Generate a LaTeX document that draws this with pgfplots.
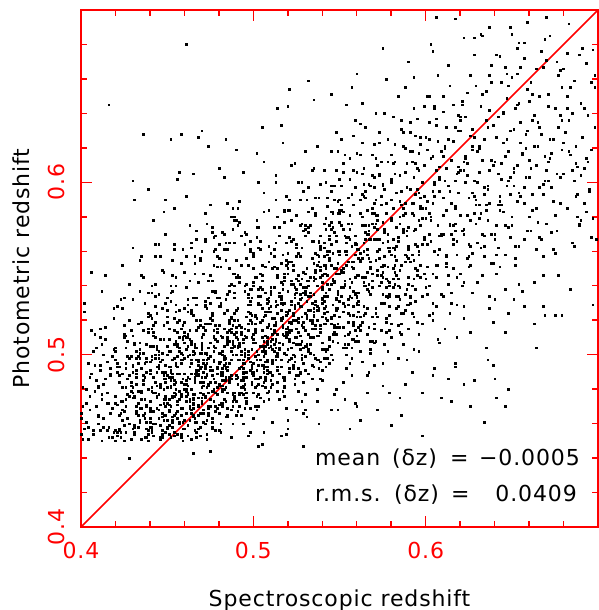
\documentclass[border=0pt]{standalone}
\usepackage{pgfplots}
\pgfplotsset{compat=1.18}
\usepackage{pgfplotstable}
\usepackage{fontspec}
\setmainfont{DejaVu Sans}[LetterSpace=4]

% Galaxy redshifts, stored in units of 0.001
\pgfplotstableread[row sep=\\]{
zspec zphot\\
400 463\\ 401 481\\ 402 457\\ 403 472\\ 404 495\\ 405 468\\ 406 489\\ 407 454\\ 408 479\\ 409 470\\
407 502\\ 403 461\\ 409 485\\ 401 451\\ 405 476\\ 400 466\\ 408 512\\ 402 530\\ 406 548\\ 404 458\\
417 466\\ 413 483\\ 419 455\\ 411 491\\ 415 472\\ 410 460\\ 418 499\\ 412 477\\ 416 452\\ 414 486\\
414 509\\ 418 469\\ 411 494\\ 416 458\\ 410 481\\ 419 521\\ 413 463\\ 417 488\\ 412 474\\ 415 456\\
412 537\\ 419 503\\ 415 478\\ 410 465\\ 417 492\\ 414 546\\ 411 515\\ 416 645\\
424 462\\ 428 488\\ 421 471\\ 426 455\\ 420 497\\ 429 479\\ 423 466\\ 427 508\\ 422 484\\ 425 459\\
422 493\\ 429 451\\ 425 517\\ 420 476\\ 427 463\\ 424 489\\ 421 528\\ 426 470\\ 423 455\\ 428 498\\
426 481\\ 420 502\\ 422 457\\ 427 486\\ 423 473\\ 428 541\\ 424 468\\ 429 482\\ 421 495\\ 425 512\\
428 460\\ 425 533\\ 426 474\\ 424 552\\ 421 490\\ 428 440\\
432 470\\ 439 456\\ 435 492\\ 430 481\\ 437 463\\ 434 503\\ 431 475\\ 436 488\\ 433 458\\ 438 496\\
436 485\\ 430 511\\ 432 467\\ 437 452\\ 433 479\\ 438 490\\ 434 461\\ 439 522\\ 431 476\\ 435 469\\
438 498\\ 435 474\\ 436 483\\ 434 507\\ 431 455\\ 432 466\\ 430 494\\ 433 472\\ 439 536\\ 437 487\\
431 459\\ 437 530\\ 434 501\\ 438 470\\ 432 489\\ 435 478\\ 439 515\\ 430 457\\ 433 499\\ 436 465\\
435 546\\ 432 491\\ 430 562\\ 439 480\\ 438 506\\ 436 628\\ 434 555\\ 439 596\\ 430 601\\ 431 590\\ 435 557\\
446 471\\ 440 489\\ 442 460\\ 447 497\\ 443 478\\ 448 465\\ 444 503\\ 449 484\\ 441 455\\ 445 492\\
448 480\\ 445 468\\ 446 509\\ 444 475\\ 441 458\\ 442 487\\ 440 473\\ 443 519\\ 449 494\\ 447 466\\
441 499\\ 447 454\\ 444 482\\ 448 462\\ 442 505\\ 445 477\\ 449 490\\ 440 461\\ 443 528\\ 446 483\\
445 463\\ 442 513\\ 440 491\\ 449 470\\ 448 486\\ 446 452\\ 447 464\\ 441 497\\ 444 476\\ 443 541\\
440 523\\ 441 479\\ 442 467\\ 443 534\\ 444 469\\ 445 500\\ 446 481\\ 447 456\\ 448 488\\ 449 474\\
447 549\\ 443 557\\ 449 570\\ 441 536\\ 445 564\\ 440 496\\ 448 583\\ 442 578\\ 443 564\\
458 476\\ 455 494\\ 456 463\\ 454 485\\ 451 502\\ 452 470\\ 450 481\\ 453 458\\ 459 497\\ 457 489\\
451 467\\ 457 510\\ 454 478\\ 458 454\\ 452 491\\ 455 484\\ 459 517\\ 450 472\\ 453 464\\ 456 506\\
455 495\\ 452 482\\ 450 526\\ 459 469\\ 458 477\\ 456 499\\ 457 460\\ 451 487\\ 454 514\\ 453 475\\
450 458\\ 451 471\\ 452 490\\ 453 537\\ 454 465\\ 455 508\\ 456 493\\ 457 479\\ 458 452\\ 459 486\\
457 520\\ 453 461\\ 459 500\\ 451 474\\ 455 545\\ 450 462\\ 458 484\\ 452 531\\ 456 473\\ 454 498\\
454 483\\ 458 553\\ 451 468\\ 456 505\\ 450 488\\ 459 561\\ 453 476\\ 457 502\\ 452 540\\ 455 466\\
457 606\\ 452 625\\ 458 628\\ 454 561\\ 456 602\\ 449 590\\ 454 585\\
461 480\\ 467 497\\ 464 468\\ 468 488\\ 462 505\\ 465 475\\ 469 492\\ 460 462\\ 463 500\\ 466 484\\
465 471\\ 462 512\\ 460 483\\ 469 458\\ 468 494\\ 466 487\\ 467 520\\ 461 476\\ 464 466\\ 463 509\\
460 498\\ 461 485\\ 462 529\\ 463 473\\ 464 480\\ 465 502\\ 466 463\\ 467 490\\ 468 516\\ 469 478\\
467 461\\ 463 474\\ 469 493\\ 461 539\\ 465 469\\ 460 511\\ 468 496\\ 462 482\\ 466 456\\ 464 489\\
464 524\\ 468 465\\ 461 503\\ 466 477\\ 460 548\\ 469 466\\ 463 486\\ 467 533\\ 462 477\\ 465 500\\
462 487\\ 469 556\\ 465 472\\ 460 507\\ 467 491\\ 464 565\\ 461 479\\ 466 504\\ 463 543\\ 468 470\\
466 505\\ 460 489\\ 462 459\\ 467 514\\ 463 493\\ 465 443\\
461 680\\ 465 605\\ 466 557\\ 467 567\\ 468 626\\ 469 555\\ 470 630\\ 463 575\\ 461 592\\
475 484\\ 472 501\\ 470 472\\ 479 492\\ 478 509\\ 476 479\\ 477 496\\ 471 466\\ 474 504\\ 473 488\\
470 475\\ 471 516\\ 472 487\\ 473 462\\ 474 498\\ 475 491\\ 476 524\\ 477 480\\ 478 470\\ 479 513\\
477 502\\ 473 489\\ 479 533\\ 471 477\\ 475 484\\ 470 506\\ 478 467\\ 472 494\\ 476 520\\ 474 482\\
474 465\\ 478 478\\ 471 497\\ 476 543\\ 470 473\\ 479 515\\ 473 500\\ 477 486\\ 472 460\\ 475 493\\
472 528\\ 479 469\\ 475 507\\ 470 481\\ 477 552\\ 474 470\\ 471 490\\ 476 537\\ 473 481\\ 478 504\\
476 491\\ 470 560\\ 472 476\\ 477 511\\ 473 495\\ 478 569\\ 474 483\\ 479 508\\ 471 547\\ 475 474\\
478 509\\ 475 493\\ 476 463\\ 474 518\\ 471 497\\ 475 444\\
474 621\\ 476 574\\ 476 571\\ 477 568\\ 472 582\\ 480 608\\ 472 567\\ 477 560\\ 475 587\\
487 488\\ 483 505\\ 489 476\\ 481 496\\ 485 513\\ 480 483\\ 488 500\\ 482 470\\ 486 508\\ 484 492\\
482 479\\ 489 520\\ 485 491\\ 480 466\\ 487 502\\ 484 495\\ 481 528\\ 486 484\\ 483 474\\ 488 517\\
488 506\\ 485 493\\ 486 537\\ 484 481\\ 481 488\\ 482 510\\ 480 471\\ 483 498\\ 489 524\\ 487 486\\
485 469\\ 482 482\\ 480 501\\ 489 547\\ 488 477\\ 486 519\\ 487 504\\ 481 490\\ 484 464\\ 483 497\\
484 532\\ 488 473\\ 481 511\\ 486 485\\ 480 556\\ 489 474\\ 483 494\\ 487 541\\ 482 485\\ 485 508\\
486 495\\ 480 564\\ 482 480\\ 487 515\\ 483 499\\ 488 573\\ 484 487\\ 489 512\\ 481 551\\ 485 478\\
484 625\\ 483 603\\ 485 588\\ 488 585\\ 489 578\\ 482 571\\ 486 565\\ 489 565\\ 485 561\\ 487 580\\
492 492\\ 499 510\\ 495 480\\ 490 500\\ 497 518\\ 494 487\\ 491 504\\ 496 473\\ 493 512\\ 498 496\\
491 483\\ 497 525\\ 494 495\\ 498 469\\ 492 507\\ 495 499\\ 499 533\\ 490 488\\ 493 478\\ 496 522\\
490 510\\ 491 497\\ 492 542\\ 493 485\\ 494 492\\ 495 515\\ 496 475\\ 497 502\\ 498 529\\ 499 490\\
496 472\\ 490 486\\ 492 505\\ 497 552\\ 493 481\\ 498 524\\ 494 509\\ 499 494\\ 491 467\\ 495 501\\
495 537\\ 492 477\\ 490 516\\ 499 489\\ 498 561\\ 496 478\\ 497 498\\ 491 546\\ 494 489\\ 493 513\\
497 500\\ 493 569\\ 499 484\\ 491 520\\ 495 503\\ 490 578\\ 498 491\\ 492 517\\ 496 556\\ 494 482\\
490 619\\ 494 606\\ 492 589\\ 492 577\\ 495 571\\ 495 564\\
508 496\\ 505 514\\ 506 484\\ 504 505\\ 501 523\\ 502 491\\ 500 509\\ 503 477\\ 509 517\\ 507 501\\
504 487\\ 508 530\\ 501 499\\ 506 473\\ 500 512\\ 509 504\\ 503 538\\ 507 493\\ 502 482\\ 505 527\\
501 515\\ 507 502\\ 504 547\\ 508 489\\ 502 497\\ 505 520\\ 509 479\\ 500 507\\ 503 534\\ 506 494\\
502 476\\ 509 490\\ 505 510\\ 500 557\\ 507 485\\ 504 529\\ 501 514\\ 506 499\\ 503 470\\ 508 506\\
500 542\\ 501 481\\ 502 521\\ 503 494\\ 504 566\\ 505 482\\ 506 503\\ 507 551\\ 508 493\\ 509 518\\
505 505\\ 502 574\\ 500 488\\ 509 525\\ 508 508\\ 506 583\\ 507 496\\ 501 522\\ 504 561\\ 503 486\\
503 600\\ 506 612\\ 505 632\\ 502 617\\ 505 448\\
515 503\\ 512 521\\ 510 490\\ 519 512\\ 518 530\\ 516 497\\ 517 516\\ 511 483\\ 514 524\\ 513 508\\
516 493\\ 510 537\\ 512 506\\ 517 479\\ 513 519\\ 518 511\\ 514 546\\ 519 500\\ 511 488\\ 515 534\\
517 522\\ 513 509\\ 519 555\\ 511 496\\ 515 504\\ 510 528\\ 518 485\\ 512 514\\ 516 542\\ 514 501\\
510 481\\ 511 497\\ 512 517\\ 513 565\\ 514 491\\ 515 536\\ 516 521\\ 517 506\\ 518 476\\ 519 513\\
511 550\\ 517 487\\ 514 529\\ 518 501\\ 512 574\\ 515 489\\ 519 510\\ 510 559\\ 513 499\\ 516 526\\
514 512\\ 518 583\\ 511 495\\ 516 532\\ 510 515\\ 519 592\\ 513 604\\ 517 623\\ 514 643\\ 516 633\\ 519 454\\
524 510\\ 528 528\\ 521 497\\ 526 519\\ 520 537\\ 529 504\\ 523 523\\ 527 490\\ 522 531\\ 525 515\\
528 500\\ 525 544\\ 526 513\\ 524 486\\ 521 526\\ 522 518\\ 520 553\\ 523 507\\ 529 495\\ 527 541\\
522 529\\ 529 516\\ 525 562\\ 520 503\\ 527 511\\ 524 535\\ 521 492\\ 526 521\\ 523 549\\ 528 508\\
525 488\\ 522 504\\ 520 524\\ 529 572\\ 528 498\\ 526 543\\ 527 528\\ 521 513\\ 524 483\\ 523 520\\
527 557\\ 523 494\\ 529 536\\ 521 508\\ 525 581\\ 520 496\\ 528 517\\ 522 566\\ 526 506\\ 524 533\\
521 519\\ 527 590\\ 524 539\\ 528 600\\ 522 610\\ 525 468\\ 520 644\\ 521 654\\ 520 462\\ 529 447\\
536 517\\ 530 535\\ 532 503\\ 537 526\\ 533 545\\ 538 511\\ 534 530\\ 539 496\\ 531 539\\ 535 522\\
531 506\\ 537 552\\ 534 520\\ 538 492\\ 532 534\\ 535 525\\ 539 561\\ 530 514\\ 533 501\\ 536 549\\
530 537\\ 531 523\\ 532 571\\ 533 510\\ 534 518\\ 535 543\\ 536 498\\ 537 528\\ 538 557\\ 539 515\\
534 494\\ 538 511\\ 531 531\\ 536 581\\ 530 505\\ 539 551\\ 533 536\\ 537 520\\ 532 489\\ 535 527\\
538 565\\ 535 500\\ 536 544\\ 534 515\\ 531 590\\ 532 502\\ 530 524\\ 533 575\\ 539 513\\ 537 540\\
532 526\\ 539 599\\ 535 608\\ 530 477\\ 537 621\\ 532 659\\ 535 648\\ 530 468\\ 538 460\\
541 524\\ 547 542\\ 544 510\\ 548 533\\ 542 552\\ 545 518\\ 549 537\\ 540 503\\ 543 546\\ 546 529\\
547 513\\ 543 560\\ 549 527\\ 541 498\\ 545 541\\ 540 532\\ 548 569\\ 542 521\\ 546 508\\ 544 556\\
546 544\\ 540 530\\ 542 579\\ 547 517\\ 543 525\\ 548 550\\ 544 505\\ 549 535\\ 541 565\\ 545 522\\
545 500\\ 542 518\\ 540 539\\ 549 589\\ 548 512\\ 546 559\\ 547 543\\ 541 527\\ 544 495\\ 543 534\\
542 573\\ 549 507\\ 545 552\\ 540 522\\ 547 598\\ 544 509\\ 541 531\\ 546 583\\ 543 520\\ 548 547\\
541 607\\ 545 618\\ 548 480\\ 545 651\\ 545 468\\
550 531\\ 551 549\\ 552 516\\ 553 540\\ 554 560\\ 555 524\\ 556 544\\ 557 509\\ 558 554\\ 559 536\\
558 519\\ 555 568\\ 556 534\\ 554 504\\ 551 548\\ 552 539\\ 550 577\\ 553 528\\ 559 514\\ 557 563\\
554 552\\ 558 537\\ 551 587\\ 556 523\\ 550 531\\ 559 558\\ 553 511\\ 557 542\\ 552 573\\ 555 529\\
555 506\\ 552 525\\ 550 547\\ 559 597\\ 558 518\\ 556 567\\ 557 551\\ 551 534\\ 554 500\\ 553 541\\
556 581\\ 550 560\\ 552 606\\ 557 488\\ 553 616\\ 558 627\\ 554 645\\ 559 472\\ 557 655\\ 553 474\\ 556 457\\
567 537\\ 563 556\\ 569 522\\ 561 546\\ 565 567\\ 560 530\\ 568 550\\ 562 514\\ 566 561\\ 564 542\\
561 525\\ 567 575\\ 564 540\\ 568 508\\ 562 555\\ 565 545\\ 569 585\\ 560 534\\ 563 519\\ 566 570\\
562 559\\ 569 543\\ 565 595\\ 560 529\\ 567 537\\ 564 565\\ 561 516\\ 566 548\\ 563 580\\ 568 535\\
560 511\\ 561 531\\ 562 554\\ 563 605\\ 564 523\\ 565 575\\ 566 558\\ 567 541\\ 568 503\\ 569 547\\
562 616\\ 565 632\\ 567 490\\ 560 663\\ 560 470\\ 566 478\\ 562 462\\
574 542\\ 578 562\\ 571 527\\ 576 552\\ 570 574\\ 579 535\\ 573 556\\ 577 519\\ 572 567\\ 575 548\\
576 530\\ 570 582\\ 572 546\\ 577 513\\ 573 561\\ 578 551\\ 574 592\\ 579 540\\ 571 524\\ 575 577\\
575 565\\ 572 549\\ 570 603\\ 579 534\\ 578 543\\ 576 571\\ 577 521\\ 571 555\\ 574 587\\ 573 540\\
570 515\\ 572 560\\ 574 612\\ 576 506\\ 578 625\\ 571 640\\ 575 495\\ 577 660\\ 579 478\\
575 678\\ 572 468\\ 575 482\\
582 548\\ 589 569\\ 585 532\\ 580 558\\ 587 581\\ 584 540\\ 581 562\\ 586 524\\ 583 574\\ 588 554\\
588 535\\ 585 589\\ 586 552\\ 584 517\\ 581 567\\ 582 557\\ 580 600\\ 583 546\\ 589 529\\ 587 585\\
587 571\\ 583 555\\ 589 611\\ 581 539\\ 585 549\\ 580 578\\ 588 526\\ 582 561\\ 586 595\\ 584 544\\
580 510\\ 582 622\\ 584 498\\ 586 636\\ 588 483\\ 580 459\\ 588 655\\ 585 475\\ 586 465\\
591 554\\ 597 575\\ 594 538\\ 598 564\\ 592 588\\ 595 546\\ 599 568\\ 590 529\\ 593 581\\ 596 560\\
590 541\\ 591 596\\ 592 558\\ 593 522\\ 594 573\\ 595 563\\ 596 607\\ 597 552\\ 598 534\\ 599 592\\
596 578\\ 590 561\\ 592 618\\ 597 545\\ 593 555\\ 598 585\\ 594 531\\ 599 567\\ 591 629\\ 595 549\\
590 515\\ 593 643\\ 596 502\\ 590 670\\ 593 661\\ 592 490\\ 598 478\\ 598 453\\
605 560\\ 602 582\\ 600 544\\ 609 570\\ 608 595\\ 606 552\\ 607 575\\ 601 535\\ 604 588\\ 603 566\\
604 547\\ 608 603\\ 601 564\\ 606 528\\ 600 579\\ 609 569\\ 603 614\\ 607 558\\ 602 540\\ 605 599\\
600 585\\ 602 625\\ 604 520\\ 606 637\\ 608 507\\ 601 650\\ 605 492\\ 607 662\\ 609 475\\ 603 680\\
606 696\\ 604 676\\ 604 488\\
618 566\\ 615 588\\ 616 550\\ 614 576\\ 611 601\\ 612 558\\ 610 581\\ 613 541\\ 619 594\\ 617 572\\
612 553\\ 619 609\\ 615 570\\ 610 534\\ 617 585\\ 614 575\\ 611 620\\ 616 564\\ 613 546\\ 618 605\\
610 591\\ 612 632\\ 614 524\\ 616 645\\ 618 510\\ 613 668\\ 617 495\\ 617 695\\
615 473\\ 613 486\\ 617 493\\
621 572\\ 627 594\\ 624 556\\ 628 582\\ 622 607\\ 625 564\\ 629 587\\ 620 547\\ 623 600\\ 626 578\\
627 559\\ 623 615\\ 629 576\\ 621 540\\ 625 591\\ 620 581\\ 628 626\\ 622 570\\ 626 552\\ 624 611\\
620 638\\ 622 528\\ 624 652\\ 626 513\\ 628 674\\ 628 684\\ 622 684\\ 626 470\\ 628 485\\ 622 483\\
636 578\\ 630 600\\ 632 562\\ 637 588\\ 633 613\\ 638 570\\ 634 593\\ 639 553\\ 631 606\\ 635 584\\
630 565\\ 631 621\\ 632 582\\ 633 546\\ 634 597\\ 635 587\\ 636 632\\ 637 534\\ 638 658\\ 639 519\\
634 461\\ 633 685\\ 637 690\\ 632 686\\ 636 497\\ 635 504\\
645 583\\ 642 605\\ 640 567\\ 649 593\\ 648 618\\ 646 575\\ 647 598\\ 641 558\\ 644 611\\ 643 589\\
640 570\\ 641 626\\ 642 587\\ 643 551\\ 644 602\\ 645 640\\ 646 538\\ 647 663\\ 648 524\\ 649 690\\
641 674\\ 646 470\\ 641 475\\ 648 480\\ 640 486\\ 639 494\\ 646 513\\
657 588\\ 653 610\\ 659 572\\ 651 598\\ 655 623\\ 650 580\\ 658 603\\ 652 563\\ 656 616\\ 654 594\\
650 575\\ 651 631\\ 652 556\\ 653 645\\ 654 541\\ 655 667\\ 657 528\\ 650 686\\ 659 693\\ 654 681\\
657 681\\ 651 532\\
662 593\\ 669 615\\ 665 577\\ 660 603\\ 667 628\\ 664 585\\ 661 608\\ 666 568\\ 663 621\\ 668 599\\
660 580\\ 662 636\\ 664 561\\ 666 650\\ 668 546\\ 667 676\\ 664 504\\ 668 528\\ 669 523\\ 663 518\\
673 597\\ 679 619\\ 675 581\\ 670 607\\ 677 632\\ 674 589\\ 671 612\\ 676 572\\ 672 625\\ 678 603\\
671 644\\ 675 559\\ 678 665\\ 670 696\\ 672 685\\ 675 523\\ 679 523\\
686 601\\ 680 623\\ 682 585\\ 687 611\\ 683 636\\ 688 593\\ 684 616\\ 689 576\\ 681 629\\ 685 607\\
682 650\\ 686 563\\ 683 692\\ 684 538\\
690 604\\ 691 626\\ 692 588\\ 693 614\\ 694 639\\ 695 596\\ 696 619\\ 697 579\\ 698 655\\ 699 567\\
697 529\\
404 451\\ 408 494\\ 401 470\\ 406 514\\ 400 454\\ 409 504\\ 403 480\\ 407 456\\ 402 525\\ 405 487\\
418 452\\ 415 496\\ 416 472\\ 414 516\\ 411 456\\ 412 506\\ 410 482\\ 413 458\\ 419 527\\ 417 489\\
410 464\\ 411 510\\ 412 450\\ 413 500\\
421 453\\ 427 499\\ 424 473\\ 428 520\\ 422 456\\ 425 510\\ 429 484\\ 420 450\\ 423 532\\ 426 492\\
422 465\\ 429 514\\ 425 450\\ 420 504\\ 427 477\\ 424 527\\ 421 455\\ 426 495\\
435 451\\ 432 502\\ 430 475\\ 439 524\\ 438 457\\ 436 514\\ 437 487\\ 431 454\\ 434 537\\ 433 495\\
437 466\\ 433 518\\ 439 450\\ 431 507\\ 435 479\\ 430 532\\ 438 452\\ 432 498\\ 436 545\\ 434 462\\
430 490\\ 438 471\\
446 452\\ 440 505\\ 442 478\\ 447 527\\ 443 460\\ 448 517\\ 444 490\\ 449 455\\ 441 540\\ 445 498\\
440 469\\ 441 521\\ 442 453\\ 443 510\\ 444 482\\ 445 535\\ 446 451\\ 447 501\\ 448 548\\ 449 465\\
444 493\\ 448 474\\ 441 515\\ 446 557\\ 440 458\\ 449 530\\
452 452\\ 459 509\\ 455 480\\ 450 533\\ 457 461\\ 454 521\\ 451 493\\ 456 454\\ 453 546\\ 458 501\\
451 471\\ 457 526\\ 454 455\\ 458 515\\ 452 485\\ 455 540\\ 459 450\\ 450 505\\ 453 555\\ 456 467\\
458 497\\ 455 477\\ 456 519\\ 454 564\\ 451 459\\ 452 536\\ 450 457\\ 453 489\\
467 452\\ 463 514\\ 469 484\\ 461 539\\ 465 464\\ 460 527\\ 468 497\\ 462 453\\ 466 553\\ 464 506\\
465 474\\ 462 532\\ 460 457\\ 469 520\\ 468 489\\ 466 547\\ 467 455\\ 461 510\\ 464 562\\ 463 470\\
466 501\\ 460 480\\ 462 525\\ 467 572\\ 463 462\\ 468 542\\ 464 451\\ 469 493\\ 461 557\\ 465 477\\
478 456\\ 475 518\\ 476 488\\ 474 543\\ 471 468\\ 472 531\\ 470 501\\ 473 454\\ 479 557\\ 477 510\\
474 478\\ 478 536\\ 471 461\\ 476 524\\ 470 493\\ 479 551\\ 473 451\\ 477 514\\ 472 566\\ 475 474\\
470 505\\ 471 484\\ 472 529\\ 473 576\\ 474 466\\ 475 546\\ 476 458\\ 477 497\\ 478 561\\ 479 481\\
481 460\\ 487 522\\ 484 492\\ 488 547\\ 482 472\\ 485 535\\ 489 505\\ 480 456\\ 483 561\\ 486 514\\
482 482\\ 489 540\\ 485 465\\ 480 528\\ 487 497\\ 484 555\\ 481 455\\ 486 518\\ 483 570\\ 488 478\\
485 509\\ 482 488\\ 480 533\\ 489 580\\ 488 470\\ 486 550\\ 487 452\\ 481 501\\ 484 565\\ 483 485\\
490 465\\ 491 527\\ 492 497\\ 493 552\\ 494 477\\ 495 540\\ 496 510\\ 497 453\\ 498 566\\ 499 519\\
496 487\\ 490 545\\ 492 470\\ 497 533\\ 493 502\\ 498 560\\ 494 460\\ 499 523\\ 491 575\\ 495 483\\
497 514\\ 493 493\\ 499 538\\ 491 585\\ 495 475\\ 490 555\\ 498 455\\ 492 506\\ 496 570\\ 494 490\\
502 468\\ 509 533\\ 505 502\\ 500 559\\ 507 481\\ 504 547\\ 501 515\\ 506 455\\ 503 574\\ 508 525\\
508 491\\ 505 552\\ 506 473\\ 504 539\\ 501 507\\ 502 568\\ 500 463\\ 503 529\\ 509 584\\ 507 487\\
504 519\\ 508 497\\ 501 545\\ 506 594\\ 500 478\\ 509 563\\ 503 447\\ 507 511\\ 502 578\\ 505 494\\
515 474\\ 512 539\\ 510 508\\ 519 565\\ 518 487\\ 516 553\\ 517 521\\ 511 461\\ 514 580\\ 513 531\\
511 497\\ 517 558\\ 514 479\\ 518 545\\ 512 513\\ 515 574\\ 519 469\\ 510 535\\ 513 590\\ 516 493\\
510 525\\ 511 503\\ 512 551\\ 513 600\\ 514 484\\ 515 569\\ 516 453\\ 517 517\\ 518 584\\ 519 500\\
526 479\\ 520 547\\ 522 514\\ 527 575\\ 523 492\\ 528 562\\ 524 529\\ 529 466\\ 521 590\\ 525 538\\
527 503\\ 523 567\\ 529 484\\ 521 554\\ 525 520\\ 520 584\\ 528 473\\ 522 543\\ 526 600\\ 524 499\\
528 533\\ 525 510\\ 526 559\\ 524 611\\ 521 490\\ 522 578\\ 520 457\\ 523 524\\ 529 595\\ 527 506\\
534 486\\ 538 554\\ 531 521\\ 536 582\\ 530 499\\ 539 569\\ 533 536\\ 537 473\\ 532 597\\ 535 545\\
535 510\\ 532 574\\ 530 491\\ 539 561\\ 538 527\\ 536 591\\ 537 480\\ 531 550\\ 534 607\\ 533 506\\
532 540\\ 539 517\\ 535 566\\ 530 618\\ 537 497\\ 534 585\\ 531 464\\ 536 531\\
540 491\\ 541 562\\ 542 528\\ 543 591\\ 544 505\\ 545 577\\ 546 543\\ 547 477\\ 548 607\\ 549 553\\
548 516\\ 545 583\\ 546 497\\ 544 569\\ 541 534\\ 542 600\\ 540 485\\ 543 558\\ 549 618\\ 547 512\\
541 547\\ 547 523\\ 544 575\\ 548 629\\ 542 502\\ 545 595\\ 549 468\\ 540 538\\
557 498\\ 553 569\\ 559 535\\ 551 598\\ 555 512\\ 550 584\\ 558 550\\ 552 484\\ 556 614\\ 554 560\\
556 523\\ 550 590\\ 552 504\\ 557 576\\ 553 541\\ 558 607\\ 554 492\\ 559 565\\ 551 625\\ 555 519\\
555 554\\ 552 530\\ 550 582\\ 559 636\\ 558 509\\ 556 602\\
562 502\\ 569 576\\ 565 540\\ 560 606\\ 567 516\\ 564 592\\ 561 556\\ 566 488\\ 563 623\\ 568 567\\
564 528\\ 568 598\\ 561 508\\ 566 584\\ 560 546\\ 569 616\\ 563 496\\ 567 572\\ 562 634\\ 565 524\\
560 561\\ 561 536\\ 562 590\\ 563 646\\
571 508\\ 577 582\\ 574 546\\ 578 612\\ 572 522\\ 575 598\\ 579 562\\ 570 494\\ 573 629\\ 576 573\\
577 534\\ 573 604\\ 579 514\\ 571 590\\ 575 552\\ 570 622\\ 578 502\\ 572 578\\ 576 640\\ 574 530\\
570 567\\ 579 542\\
586 512\\ 580 590\\ 582 552\\ 587 621\\ 583 527\\ 588 606\\ 584 568\\ 589 497\\ 581 638\\ 585 580\\
585 539\\ 582 612\\ 580 518\\ 589 597\\ 588 558\\ 586 631\\ 587 506\\ 581 585\\ 584 650\\ 583 534\\
598 518\\ 595 596\\ 596 558\\ 594 627\\ 591 533\\ 592 612\\ 590 574\\ 593 503\\ 599 644\\ 597 586\\
590 545\\ 591 618\\ 592 524\\ 593 603\\ 594 564\\ 595 637\\ 596 512\\ 597 591\\
604 524\\ 608 602\\ 601 564\\ 606 633\\ 600 539\\ 609 618\\ 603 580\\ 607 509\\ 602 650\\ 605 592\\
601 551\\ 607 624\\ 604 530\\ 608 609\\ 602 570\\ 605 643\\
615 530\\ 612 608\\ 610 570\\ 619 639\\ 618 545\\ 616 624\\ 617 586\\ 611 515\\ 614 656\\ 613 598\\
612 557\\ 619 630\\ 615 536\\ 610 615\\ 617 576\\
627 536\\ 623 614\\ 629 576\\ 621 645\\ 625 551\\ 620 630\\ 628 592\\ 622 521\\ 626 662\\ 624 604\\
626 563\\ 620 636\\ 622 542\\ 627 621\\
630 542\\ 631 620\\ 632 582\\ 633 651\\ 634 557\\ 635 636\\ 636 598\\ 637 527\\ 638 668\\ 639 610\\
634 569\\ 637 642\\
641 547\\ 647 625\\ 644 587\\ 648 656\\ 642 562\\ 645 641\\ 649 603\\ 640 532\\ 643 673\\ 646 615\\
648 574\\
652 552\\ 659 630\\ 655 592\\ 650 661\\ 657 567\\ 654 646\\ 651 608\\ 656 537\\ 653 678\\ 658 620\\
668 557\\ 665 635\\ 666 597\\ 664 666\\ 661 572\\ 662 651\\ 660 613\\ 663 542\\ 669 683\\
674 561\\ 678 639\\ 671 601\\ 676 670\\ 670 576\\ 679 655\\ 673 617\\ 677 546\\
685 565\\ 682 643\\ 680 605\\ 689 674\\ 688 580\\ 686 659\\ 687 621\\
696 568\\ 690 646\\ 692 608\\ 697 677\\ 693 583\\ 698 662\\
425 467\\ 422 488\\ 420 456\\ 429 499\\ 428 476\\ 426 511\\ 427 463\\ 421 493\\ 424 481\\ 423 452\\ 426 504\\ 420 472\\
434 469\\ 438 490\\ 431 458\\ 436 501\\ 430 478\\ 439 513\\ 433 465\\ 437 495\\ 432 483\\ 435 451\\
431 506\\ 437 474\\ 434 498\\ 438 461\\ 432 487\\ 435 519\\ 439 454\\ 430 493\\
448 472\\ 445 494\\ 446 459\\ 444 505\\ 441 481\\ 442 517\\ 440 467\\ 443 498\\ 449 486\\ 447 452\\
442 511\\ 449 476\\ 445 502\\ 440 463\\ 447 490\\ 444 524\\ 441 456\\ 446 496\\ 443 484\\ 448 509\\
440 469\\ 441 515\\ 442 478\\ 443 500\\
457 474\\ 453 497\\ 459 461\\ 451 509\\ 455 484\\ 450 522\\ 458 469\\ 452 502\\ 456 489\\ 454 453\\
451 515\\ 457 479\\ 454 506\\ 458 465\\ 452 493\\ 455 529\\ 459 457\\ 450 500\\ 453 487\\ 456 513\\
456 471\\ 450 519\\ 452 481\\ 457 504\\ 453 462\\ 458 495\\ 454 476\\ 459 510\\ 451 454\\ 455 525\\
462 478\\ 469 501\\ 465 465\\ 460 513\\ 467 488\\ 464 526\\ 461 473\\ 466 506\\ 463 493\\ 468 457\\
460 519\\ 461 483\\ 462 510\\ 463 469\\ 464 497\\ 465 533\\ 466 461\\ 467 504\\ 468 491\\ 469 517\\
468 475\\ 465 523\\ 466 485\\ 464 508\\ 461 466\\ 462 499\\ 460 480\\ 463 514\\ 469 453\\ 467 529\\
464 495\\ 468 471\\ 461 503\\ 466 489\\
471 482\\ 477 505\\ 474 469\\ 478 517\\ 472 492\\ 475 530\\ 479 477\\ 470 510\\ 473 497\\ 476 461\\
476 523\\ 470 487\\ 472 514\\ 477 473\\ 473 501\\ 478 537\\ 474 465\\ 479 508\\ 471 495\\ 475 521\\
477 479\\ 473 527\\ 479 489\\ 471 512\\ 475 470\\ 470 503\\ 478 484\\ 472 518\\ 476 457\\ 474 533\\
475 499\\ 472 475\\ 470 507\\ 479 493\\
484 485\\ 488 508\\ 481 472\\ 486 520\\ 480 495\\ 489 533\\ 483 480\\ 487 513\\ 482 500\\ 485 464\\
485 526\\ 482 490\\ 480 517\\ 489 476\\ 488 504\\ 486 540\\ 487 468\\ 481 511\\ 484 498\\ 483 524\\
480 482\\ 481 530\\ 482 492\\ 483 515\\ 484 473\\ 485 506\\ 486 487\\ 487 521\\ 488 460\\ 489 536\\
482 502\\ 489 478\\ 485 510\\ 480 496\\
496 490\\ 490 513\\ 492 477\\ 497 525\\ 493 500\\ 498 538\\ 494 485\\ 499 518\\ 491 505\\ 495 469\\
498 531\\ 495 495\\ 496 522\\ 494 481\\ 491 509\\ 492 545\\ 490 473\\ 493 516\\ 499 503\\ 497 529\\
491 487\\ 497 535\\ 494 497\\ 498 520\\ 492 478\\ 495 511\\ 499 492\\ 490 526\\ 493 465\\ 496 541\\
494 507\\ 499 483\\
500 495\\ 501 518\\ 502 482\\ 503 530\\ 504 505\\ 505 543\\ 506 490\\ 507 523\\ 508 510\\ 509 474\\
507 536\\ 503 500\\ 509 527\\ 501 486\\ 505 514\\ 500 550\\ 508 478\\ 502 521\\ 506 508\\ 504 534\\
506 492\\ 500 540\\ 502 502\\ 507 525\\ 503 483\\ 508 516\\ 504 497\\ 509 531\\ 501 470\\ 505 546\\
512 502\\ 519 525\\ 515 489\\ 510 537\\ 517 512\\ 514 550\\ 511 497\\ 516 530\\ 513 517\\ 518 481\\
518 543\\ 515 507\\ 516 534\\ 514 493\\ 511 521\\ 512 557\\ 510 485\\ 513 528\\ 519 515\\ 517 541\\
514 499\\ 518 547\\ 511 509\\ 516 532\\ 510 490\\ 519 523\\ 513 504\\ 517 538\\
521 509\\ 527 532\\ 524 496\\ 528 544\\ 522 519\\ 525 557\\ 529 504\\ 520 537\\ 523 524\\ 526 488\\
520 550\\ 521 514\\ 522 541\\ 523 500\\ 524 528\\ 525 564\\ 526 492\\ 527 535\\ 528 522\\ 529 548\\
525 506\\ 522 554\\ 520 516\\ 529 539\\ 528 497\\ 526 530\\
536 515\\ 530 539\\ 532 502\\ 537 552\\ 533 526\\ 538 566\\ 534 510\\ 539 545\\ 531 531\\ 535 493\\
537 558\\ 533 520\\ 539 549\\ 531 506\\ 535 535\\ 530 573\\ 538 497\\ 532 543\\ 536 529\\ 534 556\\
532 512\\ 539 563\\ 535 523\\ 530 547\\
545 521\\ 542 547\\ 540 507\\ 549 560\\ 548 532\\ 546 574\\ 547 516\\ 541 552\\ 544 538\\ 543 498\\
544 567\\ 548 527\\ 541 557\\ 546 512\\ 540 542\\ 549 582\\ 543 503\\ 547 550\\ 542 536\\ 545 564\\
541 518\\ 547 571\\
558 528\\ 555 554\\ 556 513\\ 554 568\\ 551 539\\ 552 583\\ 550 522\\ 553 560\\ 559 545\\ 557 504\\
551 575\\ 557 533\\ 554 565\\ 558 517\\ 552 550\\ 555 591\\ 559 508\\ 550 558\\ 553 543\\ 556 573\\
560 533\\ 561 561\\ 562 517\\ 563 575\\ 564 545\\ 565 591\\ 566 527\\ 567 567\\ 568 551\\ 569 508\\
562 582\\ 569 539\\ 565 571\\ 560 522\\ 567 556\\ 564 599\\
577 539\\ 573 567\\ 579 523\\ 571 581\\ 575 551\\ 570 597\\ 578 533\\ 572 573\\ 576 557\\ 574 514\\
570 588\\ 575 545\\
581 544\\ 587 573\\ 584 528\\ 588 588\\ 582 557\\ 585 604\\ 589 538\\ 580 579\\ 583 563\\ 586 518\\
594 550\\ 598 579\\ 591 534\\ 596 594\\ 590 563\\ 599 610\\ 593 544\\ 597 585\\
506 522\\ 500 490\\ 502 545\\ 507 505\\ 503 562\\ 508 532\\ 504 475\\ 509 554\\ 501 513\\ 505 538\\
517 529\\ 513 497\\ 519 552\\ 511 512\\ 515 569\\ 510 539\\ 518 482\\ 512 561\\ 516 520\\ 514 545\\ 510 505\\ 518 577\\
525 536\\ 522 504\\ 520 559\\ 529 519\\ 528 576\\ 526 546\\ 527 489\\ 521 568\\ 524 527\\ 523 552\\
520 512\\ 521 584\\ 522 498\\ 523 541\\
531 543\\ 537 511\\ 534 566\\ 538 526\\ 532 583\\ 535 553\\ 539 496\\ 530 575\\ 533 534\\ 536 559\\
534 519\\ 538 591\\ 531 505\\ 536 548\\ 530 569\\ 539 486\\
542 550\\ 549 518\\ 545 573\\ 540 533\\ 547 590\\ 544 560\\ 541 503\\ 546 582\\ 543 541\\ 548 566\\
548 526\\ 545 598\\ 546 512\\ 544 555\\ 541 576\\ 542 493\\ 540 546\\ 543 586\\
554 558\\ 558 523\\ 551 584\\ 556 539\\ 550 602\\ 559 569\\ 553 506\\ 557 593\\ 552 548\\ 555 576\\
555 532\\ 552 611\\ 550 516\\ 559 564\\ 558 587\\ 556 495\\ 557 554\\ 551 598\\
560 564\\ 561 529\\ 562 590\\ 563 545\\ 564 608\\ 565 575\\ 566 512\\ 567 599\\ 568 554\\ 569 582\\
566 538\\ 560 617\\ 562 522\\ 567 570\\ 563 593\\ 568 501\\ 564 560\\ 569 604\\
578 570\\ 575 535\\ 576 596\\ 574 551\\ 571 614\\ 572 581\\ 570 518\\ 573 605\\ 579 560\\ 577 588\\
577 544\\ 573 623\\ 579 528\\ 571 576\\ 575 599\\ 570 507\\ 578 566\\ 572 610\\
585 576\\ 582 541\\ 580 602\\ 589 557\\ 588 620\\ 586 587\\ 587 524\\ 581 611\\ 584 566\\ 583 594\\
581 550\\ 587 629\\ 584 534\\ 588 582\\ 582 605\\ 585 513\\ 589 572\\ 580 616\\
592 582\\ 599 547\\ 595 608\\ 590 563\\ 597 626\\ 594 593\\ 591 530\\ 596 617\\ 593 572\\ 598 600\\
590 556\\ 591 635\\ 592 540\\ 593 588\\ 594 611\\ 595 519\\ 596 578\\ 597 622\\
601 589\\ 607 552\\ 604 615\\ 608 569\\ 602 635\\ 605 600\\ 609 535\\ 600 626\\ 603 578\\ 606 607\\
608 561\\ 605 644\\ 606 545\\ 604 595\\ 601 619\\ 602 523\\
614 595\\ 618 558\\ 611 621\\ 616 575\\ 610 641\\ 619 606\\ 613 541\\ 617 632\\ 612 584\\ 615 613\\
616 567\\ 610 650\\ 612 551\\ 617 601\\ 613 625\\ 618 529\\
628 601\\ 625 564\\ 626 627\\ 624 581\\ 621 647\\ 622 612\\ 620 547\\ 623 638\\ 629 590\\ 627 619\\
622 573\\ 629 656\\ 625 557\\ 620 607\\ 627 631\\
637 607\\ 633 570\\ 639 633\\ 631 587\\ 635 653\\ 630 618\\ 638 553\\ 632 644\\ 636 596\\ 634 625\\
631 579\\ 637 662\\ 634 563\\ 638 613\\
640 612\\ 641 575\\ 642 638\\ 643 592\\ 644 658\\ 645 623\\ 646 558\\ 647 649\\ 648 601\\ 649 630\\
643 584\\ 646 667\\ 649 568\\
656 617\\ 650 580\\ 652 643\\ 657 597\\ 653 663\\ 658 628\\ 654 563\\ 659 654\\ 651 606\\ 655 635\\
653 589\\ 657 672\\
665 621\\ 662 584\\ 660 647\\ 669 601\\ 668 667\\ 666 632\\ 667 567\\ 661 658\\ 664 610\\ 663 639\\ 668 593\\
674 625\\ 678 588\\ 671 651\\ 676 605\\ 670 671\\ 679 636\\ 673 571\\ 677 662\\ 672 614\\ 675 643\\
681 629\\ 687 592\\ 684 655\\ 688 609\\ 682 675\\ 685 640\\ 689 575\\ 680 666\\ 683 618\\
698 632\\ 695 595\\ 696 658\\ 694 612\\ 691 678\\ 692 643\\ 690 578\\ 693 669\\
}\zdata

\begin{document}
\begin{tikzpicture}
\begin{axis}[
  name=ax,
  at={(81pt,83pt)}, anchor=south west,
  scale only axis, width=517pt, height=517pt,
  xmin=0.4, xmax=0.7, ymin=0.4, ymax=0.7,
  xtick={0.4,0.5,0.6}, ytick={0.4,0.5,0.6},
  xticklabels={0.4,0.5,0.6}, yticklabels={0.4,0.5,0.6},
  minor xtick={0.42,0.44,0.46,0.48,0.52,0.54,0.56,0.58,0.62,0.64,0.66,0.68},
  minor ytick={0.42,0.44,0.46,0.48,0.52,0.54,0.56,0.58,0.62,0.64,0.66,0.68},
  tick align=inside,
  major tick length=11pt, minor tick length=6pt,
  axis line style={red, line width=1.6pt},
  tick style={red, line width=1.5pt},
  /pgf/number format/assume math mode=true,
  tick label style={red, font=\fontsize{22}{26}\selectfont, inner sep=0pt},
  xticklabel style={anchor=north},
  xticklabel shift=15pt,
  yticklabel style={rotate=90, anchor=south},
  yticklabel shift=16pt,
]
\addplot[only marks, mark=square*, mark size=0.85pt,
  mark options={draw=none, fill=black}]
  table[x expr=\thisrow{zspec}/1000, y expr=\thisrow{zphot}/1000]{\zdata};
\addplot[red, line width=1.6pt] coordinates {(0.4,0.4) (0.7,0.7)};
\end{axis}

\begin{scope}[every node/.style={inner sep=0pt, font=\fontsize{22}{26}\selectfont}]
\node[anchor=base] at (339.5pt,4pt) {Spectroscopic redshift};
\node[rotate=90, anchor=base] at (29pt,341.5pt) {Photometric redshift};
\node[anchor=base west] at (315pt,144pt) {mean};
\node[anchor=base west] at (392pt,144pt) {(δz)};
\node[anchor=base west] at (450pt,144pt) {=};
\node[anchor=base east] at (580pt,144pt) {−0.0005};
\node[anchor=base west] at (315pt,108pt) {r.m.s.};
\node[anchor=base west] at (394pt,108pt) {(δz)};
\node[anchor=base west] at (451pt,108pt) {=};
\node[anchor=base east] at (577pt,108pt) {0.0409};
\end{scope}

\pgfresetboundingbox
\useasboundingbox (0,0) rectangle (599pt,610pt);
\end{tikzpicture}
\end{document}
